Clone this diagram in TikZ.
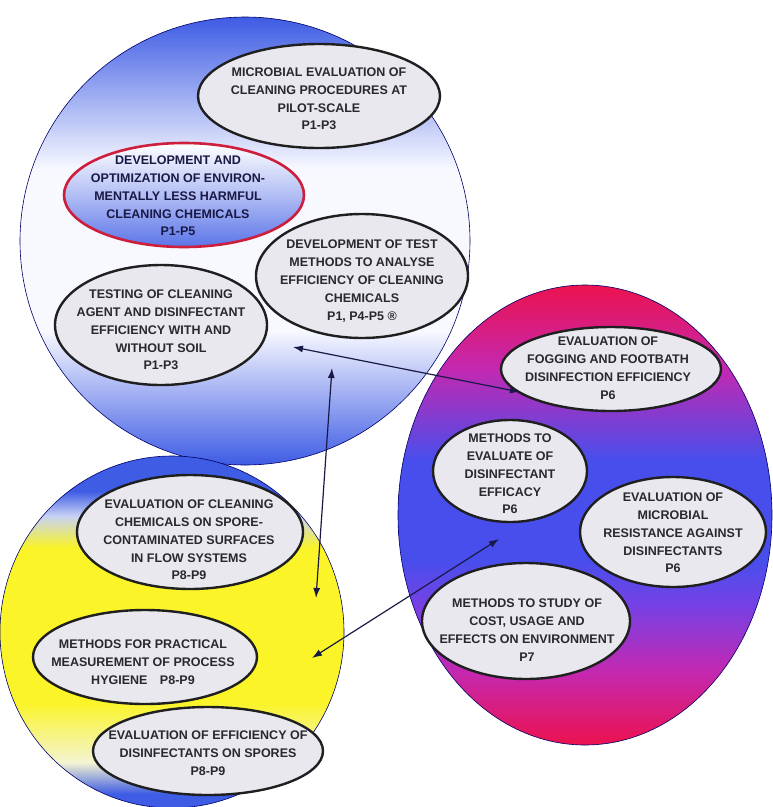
\documentclass[tikz,border=0pt]{standalone}
\usepackage{fontspec}
\setmainfont{Liberation Sans}
\usetikzlibrary{shapes.geometric,arrows.meta}
\definecolor{cblue}{RGB}{62,92,228}
\definecolor{cblueb}{RGB}{72,78,236}
\definecolor{cwhite}{RGB}{248,249,255}
\definecolor{cred}{RGB}{236,18,78}
\definecolor{cmag}{RGB}{196,40,176}
\definecolor{cviol}{RGB}{120,64,228}
\definecolor{cyel}{RGB}{250,244,40}
\definecolor{clyel}{RGB}{244,244,210}
\definecolor{lblue}{RGB}{200,210,245}
\definecolor{ellfill}{RGB}{232,232,238}
\definecolor{txtgray}{RGB}{40,40,45}
\definecolor{navy}{RGB}{25,25,70}
\definecolor{redline}{RGB}{205,30,60}
\pgfdeclareverticalshading{topcirc}{100bp}{color(0bp)=(cblue); color(25bp)=(cblue); color(40bp)=(cwhite); color(58bp)=(cwhite); color(75bp)=(cblue); color(100bp)=(cblue)}
\pgfdeclareverticalshading{rightell}{100bp}{color(0bp)=(cred); color(25bp)=(cred); color(33bp)=(cmag); color(40bp)=(cviol); color(45bp)=(cblueb); color(56bp)=(cblueb); color(66bp)=(cmag); color(75bp)=(cred); color(100bp)=(cred)}
\pgfdeclareverticalshading{blcirc}{100bp}{color(0bp)=(cblue); color(27bp)=(cblue); color(31.5bp)=(clyel); color(40bp)=(cyel); color(62bp)=(cyel); color(66.5bp)=(lblue); color(70bp)=(cblue); color(100bp)=(cblue)}
\pgfdeclareverticalshading{redfill}{100bp}{color(0bp)=(cblue); color(25bp)=(cblue!85!white); color(50bp)=(cblue!40!white); color(75bp)=(white); color(100bp)=(white)}
\tikzset{
  inell/.style={ellipse, draw=black!88, line width=2.4pt, fill=ellfill, inner sep=0pt},
  txt/.style={align=center, inner sep=0pt, font=\fontsize{12.5}{17.8}\selectfont\bfseries, text=txtgray},
  conn/.style={{Latex[length=10pt,width=7pt]}-{Latex[length=10pt,width=7pt]}, line width=1.2pt, draw=navy},
  bigc/.style={draw=black!60!blue, line width=0.6pt}
}
\begin{document}
\begin{tikzpicture}[x=1pt,y=-1pt]
\useasboundingbox (0,0) rectangle (773,807);
% big circles
\path[bigc, shading=topcirc] (245,241) ellipse [x radius=225, y radius=224];
\path[bigc, shading=blcirc] (172,632) ellipse [x radius=172, y radius=176];
\path[bigc, shading=rightell] (585,515) ellipse [x radius=187, y radius=230];
% top circle ellipses
\node[inell, minimum width=242pt, minimum height=104pt] (a) at (319,96) {};
\node[txt] (at) at (319,99) {MICROBIAL EVALUATION OF\\CLEANING PROCEDURES AT\\PILOT-SCALE\\P1-P3};
\node[ellipse, draw=redline, line width=2.6pt, shading=redfill, inner sep=0pt, minimum width=240pt, minimum height=104pt] (b) at (184,195) {};
\node[txt, text=navy] (bt) at (178,196) {DEVELOPMENT AND\\OPTIMIZATION OF ENVIRON-\\MENTALLY LESS HARMFUL\\CLEANING CHEMICALS\\P1-P5};
\node[inell, minimum width=212pt, minimum height=124pt] (c) at (362,276) {};
\node[txt] (ct) at (362,281) {DEVELOPMENT OF TEST\\METHODS TO ANALYSE\\EFFICIENCY OF CLEANING\\CHEMICALS\\P1, P4-P5 \textregistered};
\node[inell, minimum width=212pt, minimum height=120pt] (d) at (161,325) {};
\node[txt] (dt) at (161,330) {TESTING OF CLEANING\\AGENT AND DISINFECTANT\\EFFICIENCY WITH AND\\WITHOUT SOIL\\P1-P3};
% right ellipses
\node[inell, minimum width=220pt, minimum height=84pt] (e) at (611,369) {};
\node[txt] (et) at (608,368) {EVALUATION OF\\FOGGING AND FOOTBATH\\DISINFECTION EFFICIENCY\\P6};
\node[inell, minimum width=154pt, minimum height=102pt] (f) at (510,471) {};
\node[txt] (ft) at (510,474) {METHODS TO\\EVALUATE OF\\DISINFECTANT\\EFFICACY\\P6};
\node[inell, minimum width=186pt, minimum height=110pt] (g) at (673,532) {};
\node[txt] (gt) at (673,533) {EVALUATION OF\\MICROBIAL\\RESISTANCE AGAINST\\DISINFECTANTS\\P6};
\node[inell, minimum width=208pt, minimum height=116pt] (h) at (526,621) {};
\node[txt] (ht) at (527,630) {METHODS TO STUDY OF\\COST, USAGE AND\\EFFECTS ON ENVIRONMENT\\P7};
% bottom-left ellipses
\node[inell, minimum width=226pt, minimum height=114pt] (i) at (190,532) {};
\node[txt] (it) at (189,540) {EVALUATION OF CLEANING\\CHEMICALS ON SPORE-\\CONTAMINATED SURFACES\\IN FLOW SYSTEMS\\P8-P9};
\node[inell, minimum width=224pt, minimum height=94pt] (j) at (145,657) {};
\node[txt] (jt) at (143,662) {METHODS FOR PRACTICAL\\MEASUREMENT OF PROCESS\\HYGIENE\quad P8-P9};
\node[inell, minimum width=230pt, minimum height=88pt] (k) at (208,751) {};
\node[txt] (kt) at (208,753) {EVALUATION OF EFFICIENCY OF\\DISINFECTANTS ON SPORES\\P8-P9};
% connectors
\coordinate (p1) at (293,347);
\coordinate (p2) at (520,392);
\coordinate (p3) at (332,368);
\coordinate (p4) at (316,598);
\coordinate (p5) at (312,658);
\coordinate (p6) at (499,539);
\draw[conn] (p1) -- (p2);
\draw[conn] (p3) -- (p4);
\draw[conn] (p5) -- (p6);
\end{tikzpicture}
\end{document}
